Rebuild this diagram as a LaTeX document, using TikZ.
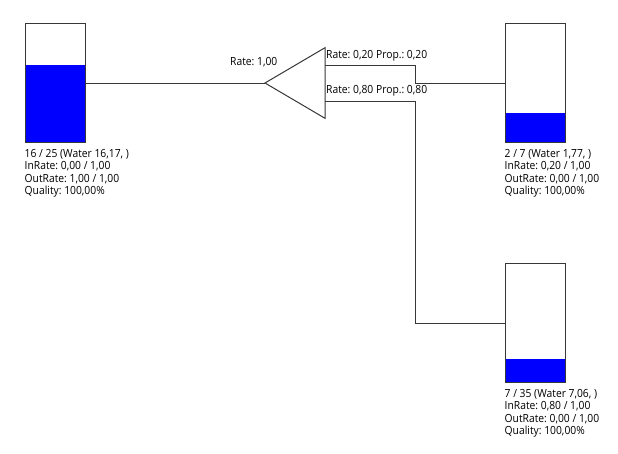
\documentclass[tikz,border=0pt]{standalone}
\usepackage{fontspec}
\setmainfont{Open Sans}
\usepackage{graphicx}
\usetikzlibrary{calc}
\frenchspacing
\definecolor{linegray}{RGB}{55,55,55}
\definecolor{waterblue}{RGB}{0,0,255}
\newcommand\txtfont{\fontsize{11.2}{12.2}\selectfont\frenchspacing}
\newsavebox\calbox
\newcommand\hsq[1]{\scalebox{\hs}[1]{#1}}
\newcommand\infotext[1]{\hsq{\txtfont\begin{tabular}{@{}l@{}}#1\end{tabular}}}
\tikzset{
  conn/.style={draw=linegray, line width=1pt},
  tank/.style={draw=linegray, line width=1pt, fill=white, minimum width=60pt, minimum height=119.4pt, inner sep=0pt,
    path picture={\fill[waterblue] (path picture bounding box.south west) rectangle ($(path picture bounding box.south east)!#1!(path picture bounding box.north east)$);}},
  info/.style={anchor=north west, inner sep=0pt},
  ratelbl/.style={anchor=base west, inner sep=0pt},
}
\begin{document}
\sbox\calbox{\txtfont Rate: 0,20 Prop.: 0,20}%
\pgfmathsetmacro\hs{101/(\wd\calbox)}%
\begin{tikzpicture}[x=1pt,y=-1pt]
\useasboundingbox (0,0) rectangle (618,453);
% tanks
\node[tank=0.6468] (t1) at (55,83) {};
\node[tank=0.2529] (t2) at (535,83) {};
\node[tank=0.2017] (t3) at (535,323) {};
% info texts
\node[info] (i1) at ($(t1.south west)+(0,5.8)$) {\infotext{16 / 25 (Water 16,17, )\\InRate: 0,00 / 1,00\\OutRate: 1,00 / 1,00\\Quality: 100,00\%}};
\node[info] (i2) at ($(t2.south west)+(0,5.8)$) {\infotext{2 / 7 (Water 1,77, )\\InRate: 0,20 / 1,00\\OutRate: 0,00 / 1,00\\Quality: 100,00\%}};
\node[info] (i3) at ($(t3.south west)+(0,5.8)$) {\infotext{7 / 35 (Water 7,06, )\\InRate: 0,80 / 1,00\\OutRate: 0,00 / 1,00\\Quality: 100,00\%}};
% splitter triangle
\coordinate (apex) at (265,83);
\coordinate (btop) at (325,47.7);
\coordinate (bbot) at (325,118.3);
\coordinate (out1) at (325,65);
\coordinate (out2) at (325,101.7);
\draw[conn, line join=miter] (apex) -- (btop) -- (bbot) -- cycle;
% connectors
\draw[conn] (t1.east) -- (apex);
\draw[conn] (out1) -- ++(90,0) |- (t2.west);
\draw[conn] (out2) -- ++(90,0) |- (t3.west);
% labels
\node[ratelbl] (r0) at (230,65) {\hsq{\txtfont Rate: 1,00}};
\node[ratelbl] (r1) at (326,58) {\hsq{\txtfont Rate: 0,20 Prop.: 0,20}};
\node[ratelbl] (r2) at (326,93.5) {\hsq{\txtfont Rate: 0,80 Prop.: 0,80}};
\end{tikzpicture}
\end{document}
